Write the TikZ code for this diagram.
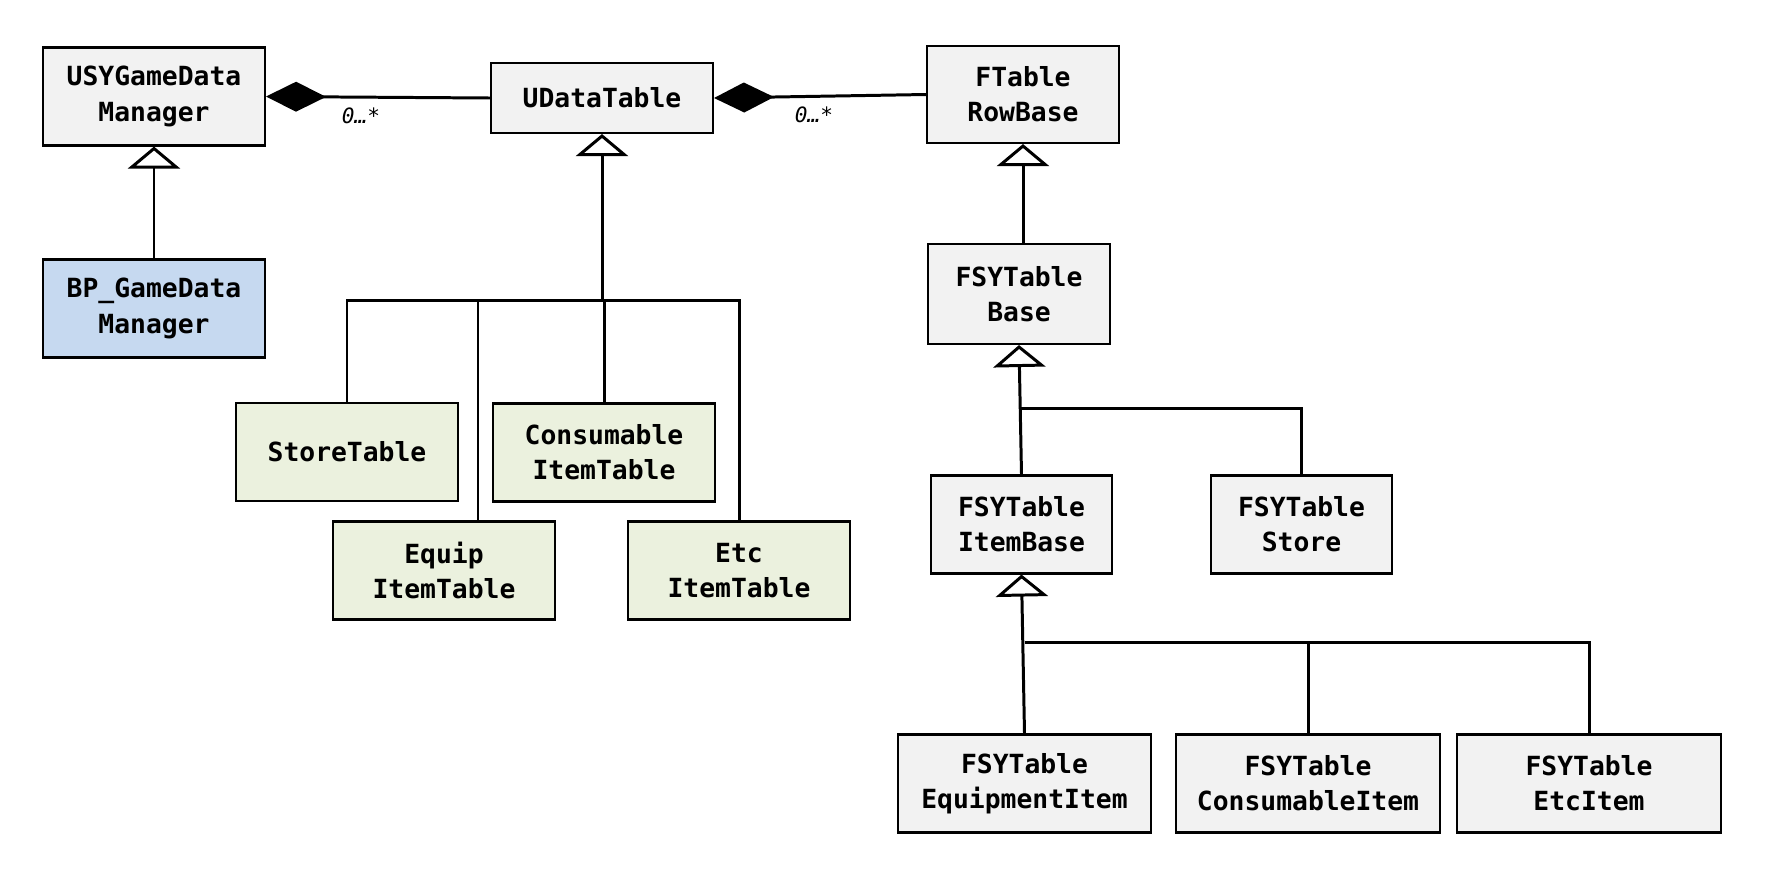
\documentclass[tikz,border=0pt]{standalone}
\usepackage{fontspec}
\setmainfont{DejaVu Sans Mono}
\usepackage{xcolor}
\usetikzlibrary{arrows.meta}

\definecolor{boxgray}{HTML}{F2F2F2}
\definecolor{boxblue}{HTML}{C6D9F0}
\definecolor{boxgreen}{HTML}{EBF1DE}

\tikzset{
  cls/.style={draw, line width=1.2pt, fill=boxgray, align=center,
    font=\bfseries\fontsize{15}{20}\selectfont,
    minimum width=4.44cm, minimum height=1.96cm, inner sep=0pt},
  inh/.style={line width=1.7pt, {Triangle[open, length=0.44cm, width=1.04cm, fill=white]}-},
  comp/.style={line width=1.7pt, {Diamond[length=1.2cm, width=0.6cm]}-},
  link/.style={line width=1.7pt},
  mult/.style={font=\itshape\fontsize{12}{14}\selectfont}
}

\begin{document}
\begin{tikzpicture}[x=0.02cm, y=-0.02cm]
\useasboundingbox (0,0) rectangle (1785,890);
% classes
\node[cls] (usy) at (154,96.5) {USYGameData\\Manager};
\node[cls, minimum height=1.4cm] (udt) at (602,98) {UDataTable};
\node[cls, minimum width=3.84cm, minimum height=1.94cm] (ftrb) at (1023,94.5) {FTable\\RowBase};
\node[cls, fill=boxblue] (bp) at (154,308.5) {BP\_GameData\\Manager};
\node[cls, fill=boxgreen] (store) at (347,452) {StoreTable};
\node[cls, fill=boxgreen] (cons) at (604,452.5) {Consumable\\ItemTable};
\node[cls, fill=boxgreen] (equip) at (444,570.5) {Equip\\ItemTable};
\node[cls, fill=boxgreen] (etc) at (739,570.5) {Etc\\ItemTable};
\node[cls, minimum width=3.64cm, minimum height=2cm] (fsb) at (1019,294) {FSYTable\\Base};
\node[cls, minimum width=3.62cm] (fib) at (1021.5,524.5) {FSYTable\\ItemBase};
\node[cls, minimum width=3.62cm] (fst) at (1301.5,524.5) {FSYTable\\Store};
\node[cls, minimum width=5.06cm] (feq) at (1024.5,783.5) {FSYTable\\EquipmentItem};
\node[cls, minimum width=5.28cm] (fcon) at (1308,783.5) {FSYTable\\ConsumableItem};
\node[cls, minimum width=5.28cm] (fetc) at (1589,783.5) {FSYTable\\EtcItem};
% composition
\draw[comp] (usy.east) -- (udt.west);
\node[mult] (m1) at (361,116) {0…*};
\draw[comp] (udt.east) -- (ftrb.west);
\node[mult] (m2) at (814,115) {0…*};
% inheritance
\coordinate (bus1) at (602,300);
\coordinate (bus2) at (1021,408);
\coordinate (bus3) at (1025,642);
\coordinate (eqtop) at (478,521);
\draw[inh] (usy.south) -- (bp.north);
\draw[inh] (udt.south) -- (bus1);
\draw[link] (store.north) |- (bus1) -| (etc.north);
\draw[link] (eqtop) -- (eqtop |- bus1);
\draw[link] (cons.north) -- (cons.north |- bus1);
\draw[inh] (ftrb.south) -- (ftrb.south |- fsb.north);
\draw[inh] (fsb.south) -- (fib.north);
\draw[link] (bus2) -| (fst.north);
\draw[inh] (fib.south) -- (feq.north);
\draw[link] (bus3) -| (fetc.north);
\draw[link] (fcon.north) -- (fcon.north |- bus3);
\end{tikzpicture}
\end{document}
